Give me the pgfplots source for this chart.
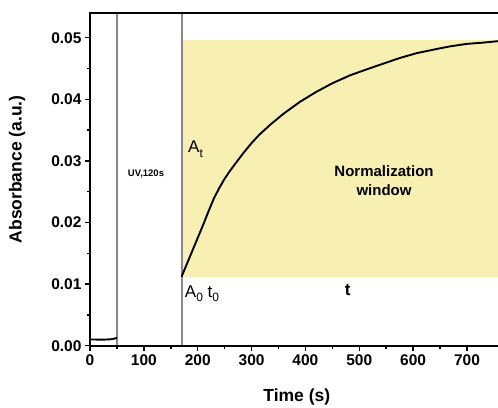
\documentclass[border=0pt]{standalone}
\usepackage{fontspec}
\setmainfont{Liberation Sans}
\usepackage{pgfplots}
\pgfplotsset{compat=1.18}

\definecolor{windowfill}{RGB}{248,240,178}
\definecolor{uvline}{RGB}{135,135,135}

% subscript set lower and larger than \textsubscript
\newcommand{\lsub}[1]{\raisebox{-0.5ex}{\fontsize{12}{14}\selectfont #1}}

% absorbance before irradiation
\pgfplotstableread{
t A
0   0.00100
10  0.00100
20  0.00099
30  0.00100
38  0.00104
44  0.00112
48  0.00122
50  0.00130
}\baseline

% recovery after the 120 s UV pulse
\pgfplotstableread{
t A
170 0.0112
180 0.0133
190 0.0154
200 0.0175
210 0.0196
220 0.0218
230 0.0239
240 0.0256
250 0.0271
260 0.0284
272 0.0298
285 0.0313
300 0.0329
315 0.0343
335 0.0359
360 0.0377
390 0.0396
420 0.0412
450 0.0426
483 0.0439
515 0.0449
545 0.0458
575 0.0467
607 0.0475
640 0.0481
669 0.0486
700 0.0490
730 0.0492
765 0.0495
}\recovery

\begin{document}
\begin{tikzpicture}
\path[use as bounding box] (-90pt,-61.3pt) rectangle (408pt,345.7pt);
\begin{axis}[
  at={(0,0)}, anchor=south west,
  scale only axis,
  width=412pt, height=332.7pt,
  xmin=0, xmax=765, ymin=0, ymax=0.05401,
  axis on top=true,
  axis line style={line width=1.8pt},
  xtick={0,100,...,700},
  ytick={0,0.01,...,0.05},
  minor x tick num=1,
  minor y tick num=1,
  xtick pos=bottom, ytick pos=left,
  tick align=outside,
  major tick length=5pt, minor tick length=3pt,
  every tick/.style={black, line width=1.5pt},
  scaled y ticks=false,
  /pgf/number format/assume math mode=true,
  yticklabel style={/pgf/number format/.cd, fixed, fixed zerofill, precision=2},
  ticklabel style={font=\fontsize{15.5}{18}\selectfont\bfseries},
  xlabel={Time (s)},
  ylabel={Absorbance (a.u.)},
  label style={font=\fontsize{17.5}{20}\selectfont\bfseries},
  xlabel style={at={(axis description cs:0.502,-0.155)}, anchor=center},
  ylabel style={at={(axis description cs:-0.177,0.53)}, anchor=center},
]
  % normalization window
  \addplot[draw=none, fill=windowfill] coordinates
    {(170,0.0112) (765,0.0112) (765,0.0496) (170,0.0496)} -- cycle;

  % UV irradiation interval
  \addplot[uvline, line width=2pt] coordinates {(50,0) (50,0.05401)};
  \addplot[uvline, line width=2pt] coordinates {(170,0) (170,0.05401)};

  \addplot[black, line width=1.9pt] table[x=t, y=A] {\baseline};
  \addplot[black, line width=1.9pt] table[x=t, y=A] {\recovery};

  \node[font=\fontsize{9.5}{11}\selectfont\bfseries] at (axis cs:104,0.02795) {UV,120s};
  \node[font=\fontsize{15}{19}\selectfont\bfseries, align=center]
    at (axis cs:546,0.02674) {Normalization\\window};
  \node[font=\fontsize{17}{20}\selectfont, anchor=base west, inner sep=0pt]
    at (axis cs:182,0.0313) {A\lsub{t}};
  \node[font=\fontsize{17}{20}\selectfont, anchor=base west, inner sep=0pt]
    at (axis cs:176,0.0079) {A\lsub{0} t\lsub{0}};
  \node[font=\fontsize{17}{20}\selectfont\bfseries, anchor=base west, inner sep=0pt]
    at (axis cs:473,0.0082) {t};
\end{axis}
\end{tikzpicture}
\end{document}
